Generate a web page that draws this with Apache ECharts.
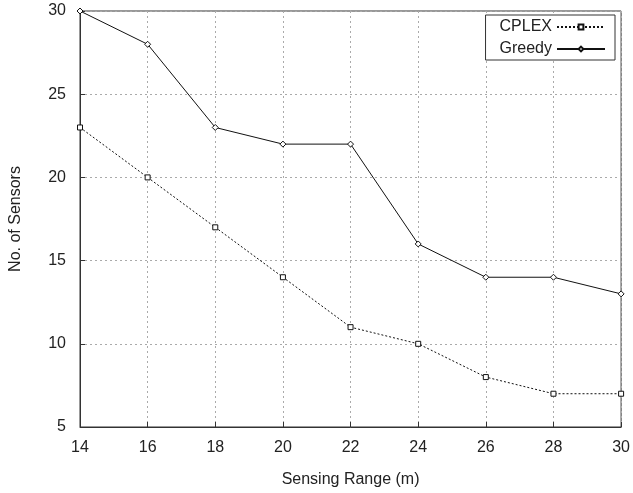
<!DOCTYPE html>
<html>
<head>
<meta charset="utf-8">
<script src="https://cdn.jsdelivr.net/npm/echarts@6/dist/echarts.min.js"></script>
<style>
html, body { margin: 0; padding: 0; background: #fff; }
#chart { width: 633px; height: 493px; }
</style>
</head>
<body>
<div id="chart"></div>
<script>
// sensing range (m)
const ranges = [14, 16, 18, 20, 22, 24, 26, 28, 30]
const cplex = [23, 20, 17, 14, 11, 10, 8, 7, 7]
const greedy = [30, 28, 23, 22, 22, 16, 14, 14, 13]

const font = 'Liberation Sans, Arial, sans-serif'
const pairs = ys => ranges.map((x, i) => [x, ys[i]])

const chart = echarts.init(document.getElementById('chart'))
chart.setOption({
  animation: false,
  textStyle: { fontFamily: font },
  grid: {
    left: 79, right: 8, top: 11, bottom: 65,
    show: true, borderColor: '#333', borderWidth: 1
  },
  legend: {
    right: 18, top: 15,
    orient: 'vertical',
    align: 'right',
    itemWidth: 48, itemHeight: 6, itemGap: 6,
    padding: [4, 9, 3, 14],
    borderColor: '#333', borderWidth: 1, backgroundColor: '#fff',
    textStyle: { fontSize: 16, color: '#222', fontFamily: font },
    data: ['CPLEX', 'Greedy']
  },
  xAxis: {
    type: 'value', min: 14, max: 30, interval: 2,
    name: 'Sensing Range (m)', nameLocation: 'middle', nameGap: 45,
    nameTextStyle: { fontSize: 16, color: '#222' },
    axisLine: { lineStyle: { color: '#333' } },
    axisTick: { inside: true, length: 5, lineStyle: { color: '#333' } },
    axisLabel: { fontSize: 16, color: '#222', margin: 13 },
    splitLine: { lineStyle: { color: '#aaa', type: [2, 3] } }
  },
  yAxis: {
    type: 'value', min: 5, max: 30, interval: 5,
    name: 'No. of Sensors', nameLocation: 'middle', nameGap: 56,
    nameTextStyle: { fontSize: 16, color: '#222' },
    axisLine: { show: true, lineStyle: { color: '#333' } },
    axisTick: { show: true, inside: true, length: 5, lineStyle: { color: '#333' } },
    axisLabel: { fontSize: 16, color: '#222', margin: 14 },
    splitLine: { lineStyle: { color: '#aaa', type: [2, 3] } }
  },
  series: [
    {
      name: 'CPLEX', type: 'line', data: pairs(cplex),
      symbol: 'rect', symbolSize: 5,
      itemStyle: { color: '#fff', borderColor: '#111', borderWidth: 1 },
      lineStyle: { color: '#111', width: 1, type: [2, 2] }
    },
    {
      name: 'Greedy', type: 'line', data: pairs(greedy),
      symbol: 'diamond', symbolSize: 6,
      itemStyle: { color: '#fff', borderColor: '#111', borderWidth: 1 },
      lineStyle: { color: '#111', width: 1 }
    }
  ]
})
</script>
</body>
</html>
